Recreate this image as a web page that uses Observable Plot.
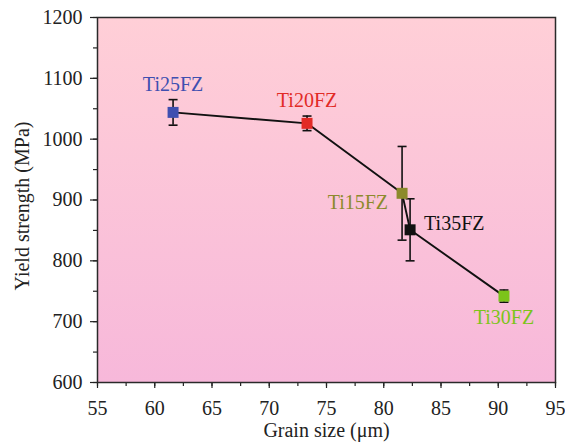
<!DOCTYPE html>
<html>
<head>
<meta charset="utf-8">
<script src="https://cdn.jsdelivr.net/npm/d3@7"></script>
<script src="https://cdn.jsdelivr.net/npm/@observablehq/plot@0.6"></script>
<style>
  html, body { margin: 0; padding: 0; background: #fff; }
  svg { display: block; }
</style>
</head>
<body>
<div id="chart"></div>
<script>
const samples = ["Ti25FZ", "Ti20FZ", "Ti15FZ", "Ti35FZ", "Ti30FZ"];
const grainSize = [61.6, 73.3, 81.6, 82.3, 90.5];
const yieldStrength = [1044, 1026, 911, 851, 742];
const errorBar = [21, 12, 77, 51, 10];
const colors = ["#3f4fb0", "#e22a26", "#8c8a2c", "#111111", "#7cc41a"];
const xTicks = [55, 60, 65, 70, 75, 80, 85, 90, 95];
const yTicks = [600, 700, 800, 900, 1000, 1100, 1200];
const xTitle = "Grain size (μm)";
const yTitle = "Yield strength (MPa)";

const data = samples.map((s, i) => ({
  name: s, x: grainSize[i], y: yieldStrength[i],
  lo: yieldStrength[i] - errorBar[i], hi: yieldStrength[i] + errorBar[i],
  color: colors[i]
}));
const pick = (n) => data.filter(d => d.name === n);

const xMinor = d3.range(55, 95.01, 2.5);
const yMinor = d3.range(600, 1200.01, 50);
const font = "'Liberation Serif', 'DejaVu Serif', serif";
const cap = {draw(ctx, size) { const r = 4.5; ctx.moveTo(-r, 0); ctx.lineTo(r, 0); }};
const FS = 20;

const chart = Plot.plot({
  width: 565, height: 443,
  marginLeft: 97, marginRight: 10, marginTop: 17, marginBottom: 61,
  style: {fontFamily: font, fontSize: FS + "px", color: "#222", background: "transparent"},
  x: {domain: [55, 95]},
  y: {domain: [600, 1200]},
  marks: [
    Plot.frame({fill: "url(#bggrad)", stroke: "none"}),
    Plot.axisX({ticks: xMinor, tickSize: 4, tickFormat: () => "", stroke: "#222", strokeWidth: 1.2, label: null}),
    Plot.axisX({ticks: xTicks, tickSize: 6, tickPadding: 12, tickFormat: d3.format("d"), fontSize: FS, stroke: "#222", strokeWidth: 1.2, label: null}),
    Plot.axisY({ticks: yMinor, tickSize: 4, tickFormat: () => "", stroke: "#222", strokeWidth: 1.2, label: null}),
    Plot.axisY({ticks: yTicks, tickSize: 7, tickPadding: 8, tickFormat: d3.format("d"), fontSize: FS, stroke: "#222", strokeWidth: 1.2, label: null}),
    Plot.frame({stroke: "#2a2a2a", strokeWidth: 1.5}),
    Plot.text([xTitle], {frameAnchor: "bottom", lineAnchor: "middle", textAnchor: "middle", dy: 48.5, fontSize: FS, fill: "#222"}),
    Plot.text([yTitle], {frameAnchor: "left", lineAnchor: "middle", textAnchor: "middle", rotate: -90, dx: -75, dy: 6, fontSize: FS, fill: "#222"}),
    Plot.line(data, {x: "x", y: "y", stroke: "#111", strokeWidth: 1.9}),
    Plot.ruleX(data, {x: "x", y1: "lo", y2: "hi", stroke: "#111", strokeWidth: 1.6}),
    Plot.dot(data, {x: "x", y: "lo", symbol: cap, stroke: "#111", strokeWidth: 1.6, r: 3}),
    Plot.dot(data, {x: "x", y: "hi", symbol: cap, stroke: "#111", strokeWidth: 1.6, r: 3}),
    Plot.dot(data, {x: "x", y: "y", symbol: "square", fill: "color", stroke: "none", r: 6.2}),
    Plot.text(pick("Ti25FZ"), {x: "x", y: "y", text: "name", fill: "color", dy: -28, fontSize: FS}),
    Plot.text(pick("Ti20FZ"), {x: "x", y: "y", text: "name", fill: "color", dy: -23, fontSize: FS}),
    Plot.text(pick("Ti15FZ"), {x: "x", y: "y", text: "name", fill: "color", dx: -14, dy: 9, textAnchor: "end", fontSize: FS}),
    Plot.text(pick("Ti35FZ"), {x: "x", y: "y", text: "name", fill: "color", dx: 14, dy: -6.5, textAnchor: "start", fontSize: FS}),
    Plot.text(pick("Ti30FZ"), {x: "x", y: "y", text: "name", fill: "color", dy: 21.5, fontSize: FS})
  ]
});

const defs = d3.create("svg:defs");
const g = defs.append("linearGradient").attr("id", "bggrad").attr("x1", 0).attr("y1", 0).attr("x2", 0).attr("y2", 1);
g.append("stop").attr("offset", "0%").attr("stop-color", "#ffcfd7");
g.append("stop").attr("offset", "100%").attr("stop-color", "#f7b8da");
chart.insertBefore(defs.node(), chart.firstChild);
document.getElementById("chart").appendChild(chart);
</script>
</body>
</html>
